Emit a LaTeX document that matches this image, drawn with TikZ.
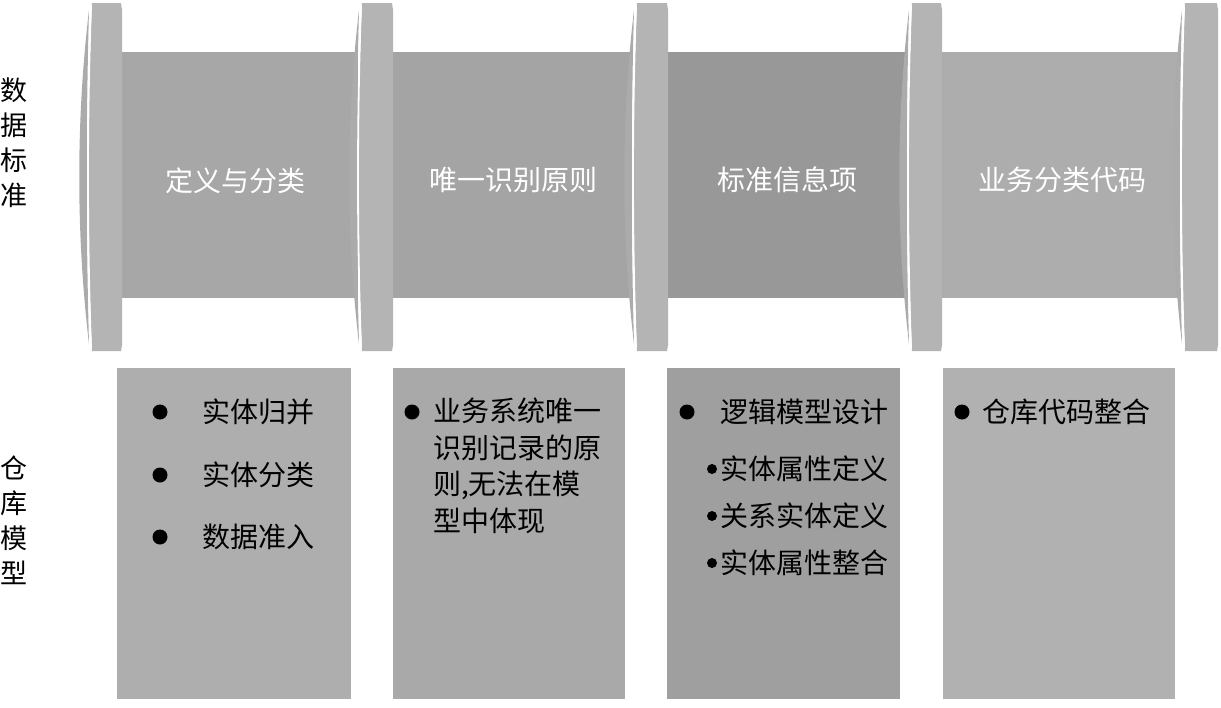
\documentclass[tikz,border=0pt]{standalone}
\usepackage{fontspec}
\newfontfamily\cjk{Noto Sans CJK SC}
\definecolor{flangec}{HTML}{B4B4B4}
\definecolor{lensc}{HTML}{ABABAB}
\definecolor{bodyA}{HTML}{A7A7A7}
\definecolor{bodyB}{HTML}{A4A4A4}
\definecolor{bodyC}{HTML}{989898}
\definecolor{bodyD}{HTML}{ADADAD}
\definecolor{boxA}{HTML}{AEAEAE}
\definecolor{boxB}{HTML}{A9A9A9}
\definecolor{boxC}{HTML}{9F9F9F}
\definecolor{boxD}{HTML}{B1B1B1}
\newcommand\mydisc[2]{%
  \fill[flangec] (#1+9,3) -- (#2-1,3) -- (#2,10) -- (#2,345) -- (#2-1,351) -- (#1+9,351) .. controls (#1+4,230) and (#1+4,124) .. cycle;
  \fill[lensc] (#1+6,10) .. controls (#1-7,120) and (#1-7,234) .. (#1+6,344) .. controls (#1+3,234) and (#1+3,120) .. cycle;
  \draw[white,line width=1.8pt] (#1+8,6) .. controls (#1+4,120) and (#1+4,234) .. (#1+8,348);
}
\tikzset{
  title/.style={text=white,font=\cjk\fontsize{28}{34}\selectfont,inner sep=0pt},
  item/.style={text=black,font=\cjk\fontsize{28}{36}\selectfont,inner sep=0pt,anchor=west},
  side/.style={text=black,font=\cjk\fontsize{27}{35}\selectfont,inner sep=0pt,align=center},
  bul/.style={circle,fill=black,inner sep=0pt,minimum size=15pt},
  sbul/.style={circle,fill=black,inner sep=0pt,minimum size=10pt}
}
\begin{document}
\begin{tikzpicture}[x=1pt,y=-1pt]
\useasboundingbox (0,0) rectangle (1221,707);
\fill[white] (0,0) rectangle (1221,707);
% body rectangles
\fill[bodyA] (118,52) rectangle (358,298);
\fill[bodyB] (390,52) rectangle (632,298);
\fill[bodyC] (665,52) rectangle (907,298);
\fill[bodyD] (940,52) rectangle (1180,298);
% discs
\mydisc{83}{122}
\mydisc{353}{393}
\mydisc{628}{668}
\mydisc{903}{942}
\mydisc{1176}{1218}
% titles
\node[title] (t1) at (235,181) {定义与分类};
\node[title] (t2) at (513,180) {唯一识别原则};
\node[title] (t3) at (787,180) {标准信息项};
\node[title] (t4) at (1062,180) {业务分类代码};
% side labels
\node[side] (s1) at (14,143) {数\\据\\标\\准};
\node[side] (s2) at (14,520) {仓\\库\\模\\型};
% bottom boxes
\fill[boxA] (117,368) rectangle (351,699);
\fill[boxB] (393,368) rectangle (625,699);
\fill[boxC] (667,368) rectangle (900,699);
\fill[boxD] (943,368) rectangle (1175,699);
% box 1
\node[bul] (b11) at (160,412) {};
\node[item] (i11) at (202,412) {实体归并};
\node[bul] (b12) at (160,475) {};
\node[item] (i12) at (202,475) {实体分类};
\node[bul] (b13) at (160,537) {};
\node[item] (i13) at (202,537) {数据准入};
% box 2
\node[bul] (b21) at (412,412) {};
\node[item,align=left,anchor=north west,font=\cjk\fontsize{28}{36.5}\selectfont] (i21) at (433,398) {业务系统唯一\\识别记录的原\\则,无法在模\\型中体现};
% box 3
\node[bul] (b31) at (687,412) {};
\node[item] (i31) at (720,412) {逻辑模型设计};
\node[sbul] (b32) at (712,469) {};
\node[item] (i32) at (720,469) {实体属性定义};
\node[sbul] (b33) at (712,516) {};
\node[item] (i33) at (720,516) {关系实体定义};
\node[sbul] (b34) at (712,563) {};
\node[item] (i34) at (720,563) {实体属性整合};
% box 4
\node[bul] (b41) at (962,412) {};
\node[item] (i41) at (982,412) {仓库代码整合};
\end{tikzpicture}
\end{document}
